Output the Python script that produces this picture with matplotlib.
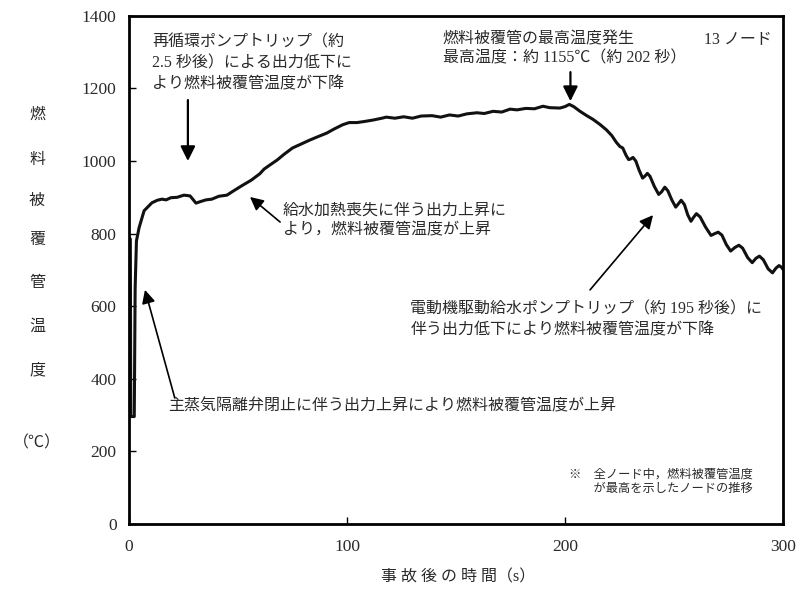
import matplotlib
matplotlib.use("Agg")
import matplotlib.pyplot as plt

plt.rcParams['font.family'] = ['Liberation Serif', 'Noto Sans CJK JP', 'DejaVu Sans']

# time after event (s) and peak cladding temperature (degC)
t = [0, 0.6, 0.8, 2.4, 2.8, 3.4, 4.6, 6.9, 10.5, 13, 15.1, 17, 19.2, 22, 25.2, 28,
     30.7, 32.6, 35.3, 38, 41.2, 44.9, 48, 52.3, 56, 60, 62, 64.6, 68, 71, 75, 79,
     83, 87, 90.7, 94, 98, 101, 104.6, 108, 112, 116, 118, 122, 126, 130, 134, 139,
     143, 147, 151, 155, 159.6, 163, 167, 171, 174.8, 178, 182, 186, 189.9, 193,
     197.7, 200, 202, 204, 206.9, 210, 212.8, 216, 219, 221.5, 223.5, 225.2, 226.5,
     228, 229.2, 230.2, 231.2, 232.5, 234, 235.6, 236.6, 237.8, 239, 241, 243, 244.3,
     245.8, 247.2, 249, 250.8, 252, 253.3, 254.8, 256.3, 257.8, 259, 260.3, 262, 264.5,
     267, 268.7, 270.3, 272, 274, 276, 278, 279.8, 281.5, 283.8, 285.9, 287.6, 289.2,
     291, 293.2, 295.2, 296.8, 298.2, 299.2, 300]
temp = [790, 785, 296, 296, 650, 780, 816, 863, 885, 892, 895, 893, 899, 900, 906, 904,
        884, 888, 893, 895, 903, 906, 918, 934, 947, 965, 978, 989, 1003, 1018, 1036, 1047,
        1058, 1068, 1077, 1088, 1100, 1106, 1106, 1109, 1113, 1118, 1121, 1118, 1122, 1118, 1124, 1125,
        1121, 1127, 1124, 1130, 1133, 1131, 1137, 1135, 1143, 1141, 1145, 1144, 1151, 1147,
        1146, 1150, 1156, 1150, 1137, 1125, 1115, 1101, 1086, 1070, 1052, 1040, 1036,
        1016, 1004, 1006, 1010, 1000, 975, 953, 958, 966, 958, 930, 908, 915,
        928, 918, 893, 873, 882, 892, 880, 852, 834, 845, 855, 846, 818,
        795, 800, 804, 796, 770, 752, 762, 768, 760, 734, 720, 732, 738,
        728, 703, 692, 705, 712, 708, 702]

xticks = [0, 100, 200, 300]
yticks = [0, 200, 400, 600, 800, 1000, 1200, 1400]
ylabel_chars = ['燃', '料', '被', '覆', '管', '温', '度', '（℃）']

txt = '#2a2a2a'

fig = plt.figure(figsize=(8.08, 6.10), dpi=100)
ax = fig.add_axes([0.1597, 0.141, 0.8093, 0.833])
ax.plot(t, temp, color='#111111', lw=2.2, solid_joinstyle='round')
ax.set_xlim(0, 300)
ax.set_ylim(0, 1400)
ax.set_xticks(xticks)
ax.set_yticks(yticks)
ax.tick_params(direction='in', length=5, width=1, labelsize=12.5, labelcolor=txt)
ax.tick_params(axis='y', pad=9)
ax.tick_params(axis='x', pad=11)
for s in ax.spines.values():
    s.set_linewidth(2)

# y label as a vertical column of characters
ypos = [115, 160, 201, 240, 283, 327, 370, 443]
for ch, yp in zip(ylabel_chars, ypos):
    fig.text(37 / 808, 1 - yp / 610, ch, ha='center', va='center', fontsize=11.5, color=txt)

fig.text(458 / 808, 1 - 577 / 610, '事 故 後 の 時 間（s）', ha='center', va='center',
         fontsize=11.5, color=txt)

arrow = dict(arrowstyle='-|>', color='black', lw=1.6, mutation_scale=22, shrinkA=0, shrinkB=0)
arrow2 = dict(arrowstyle='-|>', color='black', lw=1.2, mutation_scale=20, shrinkA=0, shrinkB=0)

fs = 11.5
ax.text(10.6, 1350, '再循環ポンプトリップ（約\n2.5 秒後）による出力低下に\nより燃料被覆管温度が下降',
        ha='left', va='top', fontsize=fs, color=txt, linespacing=1.42)
ax.annotate('', xy=(27, 1000), xytext=(27, 1168), arrowprops=arrow)

ax.text(144, 1356, '燃料被覆管の最高温度発生\n最高温度：約 1155℃（約 202 秒）',
        ha='left', va='top', fontsize=fs, color=txt, linespacing=1.25)
ax.annotate('', xy=(202.5, 1165), xytext=(202.5, 1245), arrowprops=arrow)

ax.text(264, 1356, '13 ノード', ha='left', va='top', fontsize=fs, color=txt)

ax.text(70.6, 885, '給水加熱喪失に伴う出力上昇に\nより，燃料被覆管温度が上昇',
        ha='left', va='top', fontsize=fs, color=txt, linespacing=1.3)
ax.annotate('', xy=(55.5, 901), xytext=(69.3, 832), arrowprops=arrow2)

ax.text(129, 612, '電動機駆動給水ポンプトリップ（約 195 秒後）に\n伴う出力低下により燃料被覆管温度が下降',
        ha='left', va='top', fontsize=fs, color=txt, linespacing=1.42)
ax.annotate('', xy=(240.4, 851), xytext=(211.5, 645), arrowprops=arrow2)

ax.text(17.9, 325, '主蒸気隔離弁閉止に伴う出力上昇により燃料被覆管温度が上昇',
        ha='left', va='center', fontsize=fs, color=txt)
ax.annotate('', xy=(7.3, 645), xytext=(21, 347), arrowprops=arrow2)

ax.text(202, 154, '※　全ノード中，燃料被覆管温度\n　　が最高を示したノードの推移',
        ha='left', va='top', fontsize=8.8, color=txt, linespacing=1.35)

fig.savefig('out.png', dpi=100)
